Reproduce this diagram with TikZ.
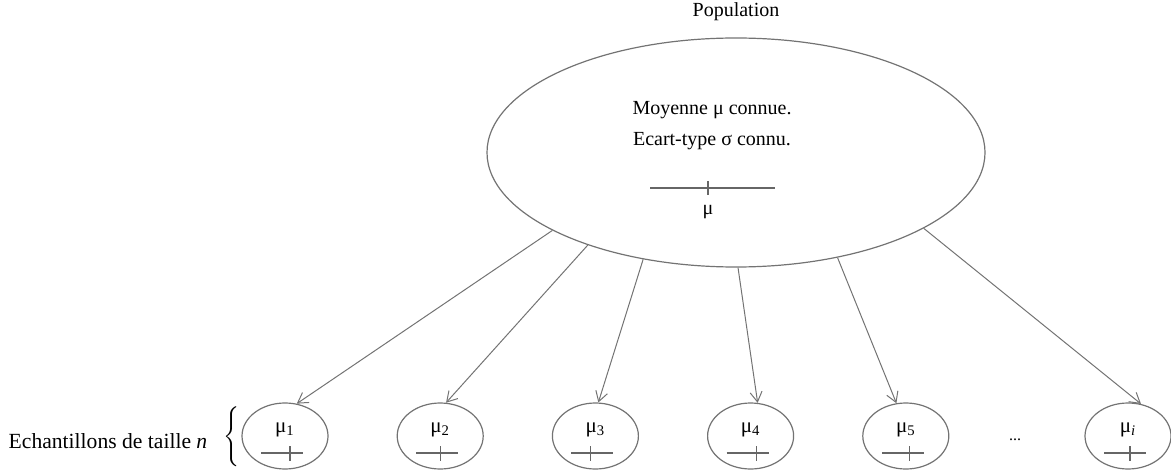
\documentclass[tikz,border=0pt]{standalone}
\usepackage{fontspec}
\setmainfont{Liberation Serif}
\usepackage{tikz}
\usetikzlibrary{positioning,shapes.geometric,arrows.meta}

% little axis with its tick under each sample mean
\newcommand{\minaxis}[2]{%
  \draw[axis] ([xshift=-12pt,yshift=-8.5pt]#1.center) -- ([xshift=9pt,yshift=-8.5pt]#1.center);
  \draw[axis] ([xshift=#2,yshift=-5pt]#1.center) -- ([xshift=#2,yshift=-12.5pt]#1.center);}

\begin{document}
\begin{tikzpicture}[x=0.5pt,y=-0.5pt,
    font=\fontsize{10}{15.5}\selectfont,
    pop/.style={ellipse,draw=black!55,line width=0.6pt,inner sep=0pt,minimum width=249pt,minimum height=114.5pt},
    smp/.style={ellipse,draw=black!55,line width=0.6pt,inner sep=0pt,minimum width=43pt,minimum height=33pt},
    axis/.style={draw=black!60,line width=0.6pt},
    link/.style={draw=black!55,line width=0.5pt,-{Straight Barb[length=5pt,width=6pt]}},
    lbl/.style={inner sep=0pt,font=\fontsize{10.5}{10.5}\selectfont},
    node distance=34pt]
  \useasboundingbox (0,0) rectangle (1171,470);

  \node (title) at (736,12) {Population};
  \node[pop] (pop) at (736,152.5) {};
  \node[align=center] (txt) at (712,126) {Moyenne μ connue.\\Ecart-type σ connu.};
  \draw[axis] (650,188) -- (775,188);
  \draw[axis] (708,181) -- (708,195);
  \node[inner sep=0pt] (mu) at (708,212) {μ};

  \node[smp](m1) at (285,436){};
  \node[smp](m2)[right =of m1]{};
  \node[smp](m3)[right =of m2]{};
  \node[smp](m4)[right =of m3]{};
  \node[smp](m5)[right =of m4]{};
  \node[font=\fontsize{8}{8}\selectfont](dots) at (1015,440){...};
  \node[smp](mi) at (1128,436){};

  \node[lbl](l1) at ([yshift=3pt]m1.center){μ\textsubscript{1}};
  \node[lbl](l2) at ([yshift=3pt]m2.center){μ\textsubscript{2}};
  \node[lbl](l3) at ([yshift=3pt]m3.center){μ\textsubscript{3}};
  \node[lbl](l4) at ([yshift=3pt]m4.center){μ\textsubscript{4}};
  \node[lbl](l5) at ([yshift=3pt]m5.center){μ\textsubscript{5}};
  \node[lbl](li) at ([yshift=3pt]mi.center){μ\textsubscript{\textit{i}}};
  \minaxis{m1}{2.5pt}
  \minaxis{m2}{0pt}
  \minaxis{m3}{-2.5pt}
  \minaxis{m4}{3pt}
  \minaxis{m5}{2pt}
  \minaxis{mi}{1pt}

  \path(pop.203) edge[link] (m1.70)
       (pop.212) edge[link] (m2.80)
       (pop.229) edge[link] (m3.85)
       (pop.271) edge[link] (m4.78)
       (pop.314) edge[link] (m5.106)
       (pop.338) edge[link] (mi.68);

  \node[font=\fontsize{10.8}{12}\selectfont] (lab) at (108,441) {Echantillons de taille \textit{n}};
  \node[inner sep=0pt,font=\boldmath] (brace) at (232,437) {$\Biggl\{$};
\end{tikzpicture}
\end{document}
